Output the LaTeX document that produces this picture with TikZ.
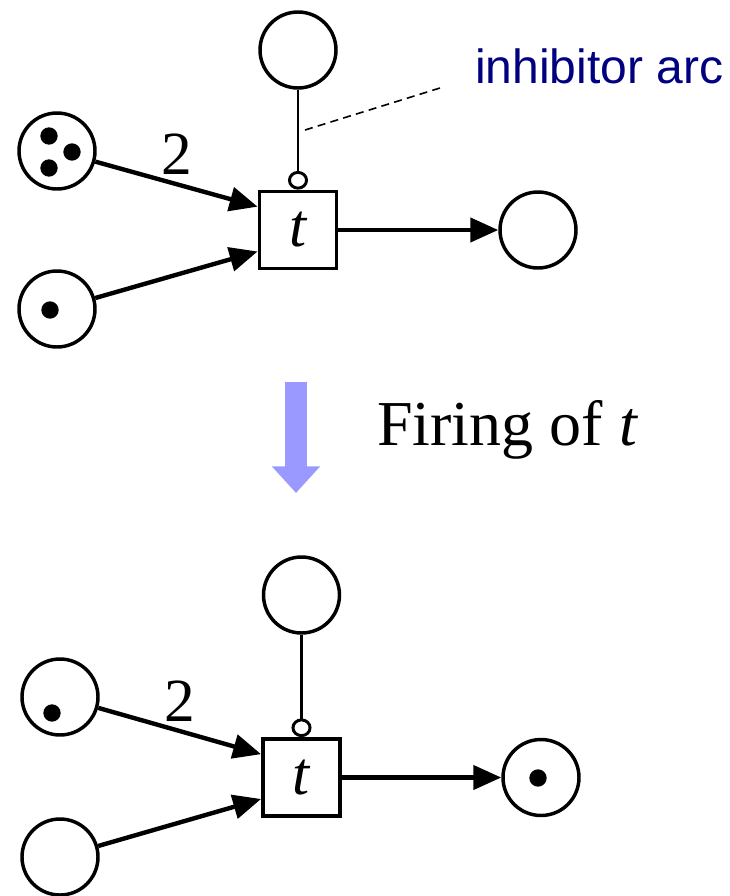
\documentclass[tikz,border=0pt]{standalone}
\usepackage{fontspec}
\setmainfont{Liberation Serif}
\newfontfamily\notefont{Liberation Sans}
\usepackage{xcolor}
\usetikzlibrary{arrows.meta,positioning}

\definecolor{firingblue}{RGB}{153,153,255}
\definecolor{notenavy}{RGB}{0,0,128}

\begin{document}
\begin{tikzpicture}[
    x=0.75pt, y=-0.75pt,
    place/.style={circle, draw, line width=2.6pt, minimum size=57pt, inner sep=0pt},
    trans/.style={rectangle, draw, line width=2.6pt, minimum size=58pt, inner sep=0pt, font=\fontsize{46}{50}\selectfont\itshape},
    token/.style={circle, fill, inner sep=0pt, minimum size=13pt},
    arc/.style={-{Triangle[length=21pt, width=18pt]}, line width=3.3pt},
    inh/.style={-{Circle[open, length=14pt, width=15pt]}, line width=2.2pt},
    weight/.style={font=\fontsize{46}{50}\selectfont}
]
    \useasboundingbox (0,0) rectangle (729,896);

    % Net before firing
    \node[trans] (t1) at (298,230) {t};
    \node[place] (inh1) at (298,50) {};
    \node[place] (inA1) at (57,151) {};
    \node[place] (inB1) at (57,309) {};
    \node[place] (out1) at (538,230) {};

    \node[token] (k1) at (49,136) {};
    \node[token] (k2) at (72,152) {};
    \node[token] (k3) at (49,168) {};
    \node[token] (k4) at (50,310) {};

    \draw[arc] (inA1) -- (t1.150) node[midway, above=2pt, weight] {2};
    \draw[arc] (inB1) -- (t1.208);
    \draw[arc] (t1) -- (out1);
    \draw[inh] (inh1) -- (t1);

    % Note on the inhibitor arc
    \coordinate (noteStart) at (305,130);
    \coordinate (noteEnd) at (440,88);
    \draw[dashed, line width=1.2pt, dash pattern=on 6pt off 4pt] (noteStart) -- (noteEnd);
    \node[anchor=base west, inner sep=0pt, text=notenavy, font=\notefont\fontsize{36}{40}\selectfont] (note) at (475,83) {inhibitor arc};

    % Firing step
    \coordinate (fireTop) at (296,382);
    \coordinate (fireEnd) at (296,493);
    \draw[firingblue, line width=17pt, -{Triangle[length=20pt, width=35pt]}] (fireTop) -- (fireEnd);
    \node[anchor=base west, inner sep=0pt, font=\fontsize{48}{52}\selectfont] (firing) at (377,445) {Firing of \textit{t}};

    % Net after firing
    \node[trans] (t2) at (301.5,777.5) {t};
    \node[place] (inh2) at (301.5,595) {};
    \node[place] (inA2) at (60,697) {};
    \node[place] (inB2) at (60,857) {};
    \node[place] (out2) at (541,777.5) {};

    \node[token] (k5) at (52,713) {};
    \node[token] (k6) at (538,778) {};

    \draw[arc] (inA2) -- (t2.150) node[midway, above=2pt, weight] {2};
    \draw[arc] (inB2) -- (t2.208);
    \draw[arc] (t2) -- (out2);
    \draw[inh] (inh2) -- (t2);
\end{tikzpicture}
\end{document}
